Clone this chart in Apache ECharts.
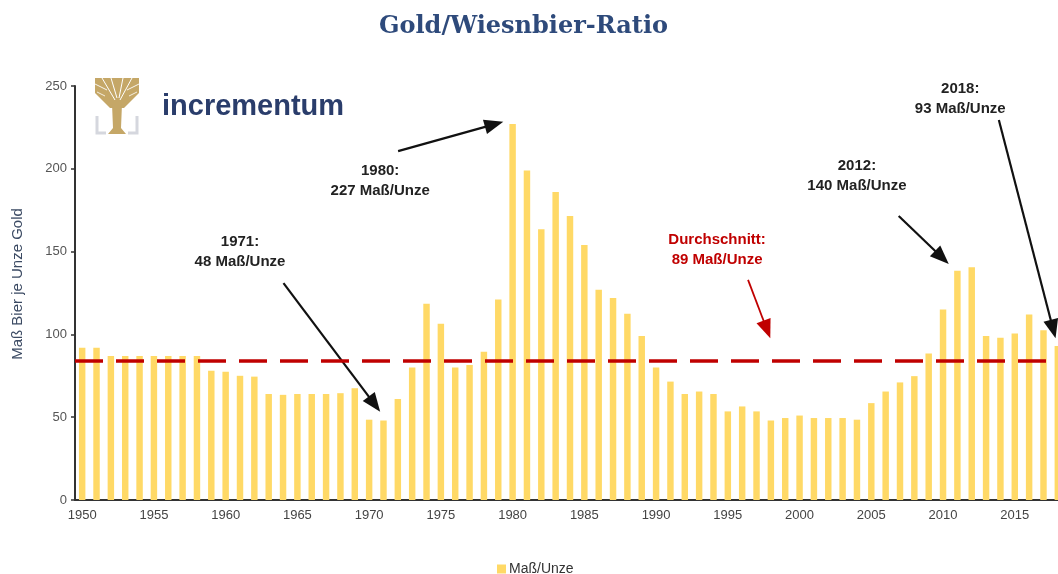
<!DOCTYPE html>
<html>
<head>
<meta charset="utf-8">
<script src="https://cdn.jsdelivr.net/npm/echarts@6/dist/echarts.min.js"></script>
<style>
  html, body { margin: 0; padding: 0; background: #fff; }
  #main { width: 1058px; height: 574px; }
</style>
</head>
<body>
<div id="main"></div>
<script>
// Jahre 1950 - 2018
const years = [];
for (let y = 1950; y <= 2018; y++) years.push(String(y));

// Maß Bier je Unze Gold
const ratio = [
  92, 92, 87, 87, 87, 87, 87, 87, 87, 78,
  77.5, 75, 74.5, 64, 63.5, 64, 64, 64, 64.5, 67.5,
  48.5, 48, 61, 80, 118.5, 106.5, 80, 81.5, 89.5, 121,
  227, 199, 163.5, 186, 171.5, 154, 127, 122, 112.5, 99,
  80, 71.5, 64, 65.5, 64, 53.5, 56.5, 53.5, 48, 49.5,
  51, 49.5, 49.5, 49.5, 48.5, 58.5, 65.5, 71, 74.8, 88.5,
  115, 138.5, 140.5, 99, 98, 100.5, 112, 102.5, 93
];

const avgLine = 84;
const yTicks = [0, 50, 100, 150, 200, 250];

const dom = document.getElementById('main');
const chart = echarts.init(dom);

chart.setOption({
  animation: false,
  title: {
    text: 'Gold/Wiesnbier-Ratio',
    left: 374,
    top: 10,
    textStyle: {
      fontFamily: 'DejaVu Serif',
      fontWeight: 'bold',
      fontSize: 24,
      color: '#2E4A7B'
    }
  },
  legend: {
    data: ['Maß/Unze'],
    left: 492,
    top: 557,
    icon: 'rect',
    itemWidth: 9,
    itemHeight: 9,
    itemGap: 4,
    textStyle: { fontFamily: 'Liberation Sans', fontSize: 14, color: '#333', padding: [0, 0, 0, -2] }
  },
  grid: { left: 75, top: 86, bottom: 74, right: -7, outerBoundsMode: 'none' },
  xAxis: {
    type: 'category',
    data: years,
    boundaryGap: true,
    axisLine: { lineStyle: { color: '#333', width: 2 } },
    axisTick: { interval: 0, length: 4, lineStyle: { color: '#333', width: 1.5 } },
    axisLabel: { interval: 4, fontFamily: 'Liberation Sans', fontSize: 13, color: '#444', margin: 9 }
  },
  yAxis: {
    type: 'value',
    min: yTicks[0],
    max: yTicks[yTicks.length - 1],
    interval: 50,
    name: 'Maß Bier je Unze Gold',
    nameLocation: 'middle',
    nameGap: 50,
    nameTextStyle: { fontFamily: 'Liberation Sans', fontSize: 15, color: '#3B4A63', padding: [0, 0, 0, 18] },
    axisLine: { show: true, lineStyle: { color: '#333', width: 2 } },
    axisTick: { show: true, length: 4, lineStyle: { color: '#333', width: 1.5 } },
    axisLabel: { fontFamily: 'Liberation Sans', fontSize: 13, color: '#555', margin: 8 },
    splitLine: { show: false }
  },
  series: [{
    name: 'Maß/Unze',
    type: 'bar',
    data: ratio,
    barWidth: '45%',
    itemStyle: { color: '#FFD966' },
    markLine: {
      silent: true,
      symbol: ['none', 'none'],
      label: { show: false },
      lineStyle: { color: '#C00000', width: 3.5, type: [28, 13] },
      data: [{ yAxis: avgLine }]
    }
  }]
});

// Anmerkungen, verankert an Datenkoordinaten (Kategorie-Index, Wert)
const notes = [
  { text: '1971:\n48 Maß/Unze', at: [11.0, 150], color: '#222' },
  { text: '1980:\n227 Maß/Unze', at: [20.77, 193], color: '#222' },
  { text: 'Durchschnitt:\n89 Maß/Unze', at: [44.25, 151], color: '#C00000' },
  { text: '2012:\n140 Maß/Unze', at: [54.0, 196], color: '#222' },
  { text: '2018:\n93 Maß/Unze', at: [61.2, 242.3], color: '#222' }
];
const arrows = [
  { from: [14.03, 131], to: [20.77, 53.3], color: '#111', width: 2.2 },
  { from: [22.02, 210.7], to: [29.35, 228.4], color: '#111', width: 2.2 },
  { from: [56.91, 171.5], to: [60.4, 142.5], color: '#111', width: 2.2 },
  { from: [63.89, 229.5], to: [67.84, 97.6], color: '#111', width: 2.2 },
  { from: [46.41, 132.9], to: [47.96, 97.6], color: '#C00000', width: 1.8 }
];

function pt(x, v) {
  const i = Math.floor(x), f = x - i;
  const a = chart.convertToPixel({ xAxisIndex: 0, yAxisIndex: 0 }, [i, v]);
  const b = chart.convertToPixel({ xAxisIndex: 0, yAxisIndex: 0 }, [i + 1, v]);
  return [a[0] + (b[0] - a[0]) * f, a[1]];
}

function arrow(p0, p1, color, w) {
  const headLen = 19, headW = 15;
  const dx = p1[0] - p0[0], dy = p1[1] - p0[1];
  const len = Math.sqrt(dx * dx + dy * dy);
  const ux = dx / len, uy = dy / len;
  const bx = p1[0] - ux * headLen, by = p1[1] - uy * headLen;
  const nx = -uy, ny = ux;
  return [
    { type: 'line', shape: { x1: p0[0], y1: p0[1], x2: bx + ux * 2, y2: by + uy * 2 },
      style: { stroke: color, lineWidth: w }, silent: true },
    { type: 'polygon', shape: { points: [p1, [bx + nx * headW / 2, by + ny * headW / 2], [bx - nx * headW / 2, by - ny * headW / 2]] },
      style: { fill: color }, silent: true }
  ];
}

const gfx = [];
notes.forEach(n => {
  const p = pt(n.at[0], n.at[1]);
  gfx.push({
    type: 'text', x: p[0], y: p[1], silent: true,
    style: {
      text: n.text, align: 'center', verticalAlign: 'middle',
      font: 'bold 15px "Liberation Sans"', fill: n.color, lineHeight: 20
    }
  });
});
arrows.forEach(a => {
  arrow(pt(a.from[0], a.from[1]), pt(a.to[0], a.to[1]), a.color, a.width).forEach(e => gfx.push(e));
});

// Logo
const gold = '#C5A767', grey = '#D5D7DE';
const branch = (x1, y1, x2, y2, w) => ({ type: 'line', shape: { x1, y1, x2, y2 }, style: { stroke: '#fff', lineWidth: w } });
gfx.push({
  type: 'group', x: 95, y: 78, silent: true,
  children: [
    { type: 'polyline', shape: { points: [[2, 38], [2, 55], [11, 55]] }, style: { stroke: grey, lineWidth: 3, fill: null } },
    { type: 'polyline', shape: { points: [[42, 38], [42, 55], [33, 55]] }, style: { stroke: grey, lineWidth: 3, fill: null } },
    { type: 'polygon', shape: { points: [[0, 0], [44, 0], [44, 15], [29, 30], [15, 30], [0, 15]] }, style: { fill: gold } },
    { type: 'polygon', shape: { points: [[17, 26], [27, 26], [26, 50], [31, 56], [13, 56], [18, 50]] }, style: { fill: gold } },
    branch(20, 22, 7, 0, 1),
    branch(22, 20, 16, 0, 1),
    branch(24, 20, 28, 0, 1),
    branch(25, 22, 37, 0, 1),
    branch(12, 12, 0, 6, 0.9),
    branch(32, 12, 44, 6, 0.9),
    branch(10, 18, 2, 14, 0.8),
    branch(34, 18, 42, 14, 0.8)
  ]
});
gfx.push({
  type: 'text', x: 162, y: 107, silent: true,
  style: { text: 'incrementum', font: 'bold 29px "Liberation Sans"', fill: '#2A3D6B', verticalAlign: 'middle' }
});

chart.setOption({ graphic: gfx });
</script>
</body>
</html>
